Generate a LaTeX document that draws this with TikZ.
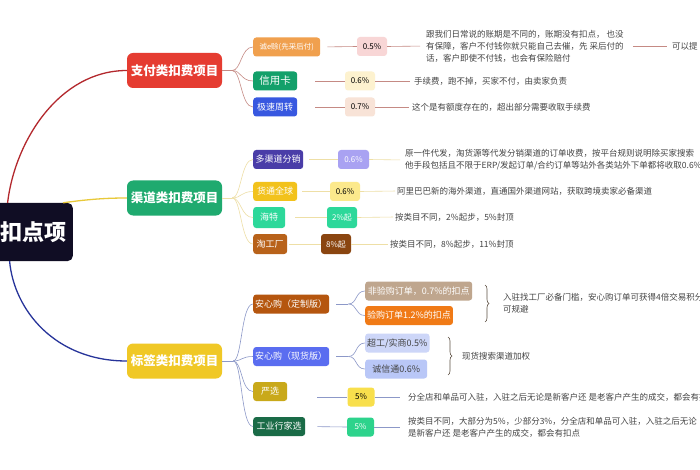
\documentclass[tikz,border=0pt]{standalone}
\usepackage{fontspec}
\setmainfont{Noto Sans CJK SC}
\usepackage{xcolor}
\usetikzlibrary{decorations.pathreplacing}

\definecolor{rootbg}{HTML}{100D24}
\definecolor{payred}{HTML}{E53C31}
\definecolor{chgreen}{HTML}{1FAA6F}
\definecolor{labyellow}{HTML}{F0C826}
\definecolor{redcurve}{HTML}{B3282D}
\definecolor{yelcurve}{HTML}{E8C93A}
\definecolor{bluecurve}{HTML}{27349A}
\definecolor{payline}{HTML}{C58A84}
\definecolor{chline}{HTML}{EEDFA6}
\definecolor{labline}{HTML}{8C98C8}
\definecolor{txtgray}{HTML}{444444}
% box colours
\definecolor{cekc}{HTML}{F0A04E}
\definecolor{xykc}{HTML}{13A06A}
\definecolor{jszzc}{HTML}{3858E0}
\definecolor{p1c}{HTML}{F8D6D6}
\definecolor{p2c}{HTML}{FDF2CF}
\definecolor{p3c}{HTML}{F8E3D7}
\definecolor{dqdc}{HTML}{4A3DA8}
\definecolor{q1c}{HTML}{A9A2F2}
\definecolor{htqqc}{HTML}{F2C21C}
\definecolor{q2c}{HTML}{FCE98C}
\definecolor{htc}{HTML}{2DD89A}
\definecolor{tgcc}{HTML}{B8621A}
\definecolor{q4c}{HTML}{8A4510}
\definecolor{axdc}{HTML}{B5560F}
\definecolor{fygc}{HTML}{BFA68E}
\definecolor{ygc}{HTML}{F07A16}
\definecolor{axxc}{HTML}{5A6DF0}
\definecolor{cgc}{HTML}{CDD6F8}
\definecolor{cxtc}{HTML}{B9C7F7}
\definecolor{yxc}{HTML}{C9A91A}
\definecolor{r1c}{HTML}{F8DF4C}
\definecolor{gyhjc}{HTML}{1A6B47}
\definecolor{r2c}{HTML}{2DD38C}

\begin{document}
\begin{tikzpicture}[
		x=1pt, y=-1pt,
		every node/.style={font=\fontsize{8.5}{12}\selectfont},
		rootbox/.style={anchor=east, fill=rootbg, text=white, rounded corners=5pt, minimum height=58pt, inner xsep=6pt, font=\fontsize{22}{24}\selectfont\bfseries},
		mainbox/.style={rounded corners=6pt, text=white, minimum width=95pt, minimum height=35pt, font=\fontsize{12.5}{14}\selectfont\bfseries},
		subbox/.style={anchor=west, rounded corners=3pt, text=white, minimum height=19pt, inner xsep=2pt, font=\fontsize{9}{10}\selectfont},
		pctbox/.style={rounded corners=3pt, minimum width=30pt, minimum height=19pt, inner sep=1pt, font=\fontsize{8}{10}\selectfont},
		desc/.style={anchor=west, align=left, text=txtgray, inner sep=0pt},
		paylink/.style={draw=payline, line width=0.6pt},
		chlink/.style={draw=chline, line width=0.6pt},
		lablink/.style={draw=labline, line width=0.6pt},
		mybrace/.style={draw=txtgray!80!brown, line width=0.6pt, decorate, decoration={brace, amplitude=4pt}}
		]
	
	\clip (0,0) rectangle (700,470);
	\fill[white] (0,0) rectangle (700,470);
	
	% Root and main branches
	\node[rootbox] (root) at (73,232) {扣点项};
	\node[mainbox, fill=payred] (zf) at (174.5,70.5) {支付类扣费项目};
	\node[mainbox, fill=chgreen] (qd) at (174.5,198) {渠道类扣费项目};
	\node[mainbox, fill=labyellow] (bq) at (174.5,361) {标签类扣费项目};
	
	\draw[redcurve, line width=1.3pt] ([xshift=13pt]root.north west) .. controls (15,140) and (60,70.5) .. (zf.west);
	\draw[yelcurve, line width=1.3pt] ([xshift=-10pt]root.north east) .. controls (90,199) and (108,198) .. (qd.west);
	\draw[bluecurve, line width=1.3pt] ([xshift=15pt]root.south west) .. controls (14,310) and (55,361) .. (bq.west);
	
	% Payment items
	\node[subbox, fill=cekc, minimum width=67pt, font=\fontsize{7.5}{9}\selectfont] (cek) at (253,47) {诚e赊(先采后付)};
	\node[subbox, fill=xykc, minimum width=44pt, font=\fontsize{10.5}{12}\selectfont] (xyk) at (253,81) {信用卡};
	\node[subbox, fill=jszzc, minimum width=44pt] (jszz) at (253,107) {极速周转};
	
	\draw[paylink] (zf.east) -- ++(10,0) coordinate (zfk);
	\foreach \n in {cek, xyk, jszz}{
		\draw[paylink] (zfk) .. controls +(9,0) and +(-12,0) .. (\n.west);
	}
	
	\node[pctbox, fill=p1c] (p1) at (372,46.5) {0.5\%};
	\node[pctbox, fill=p2c] (p2) at (360,81) {0.6\%};
	\node[pctbox, fill=p3c] (p3) at (360,107) {0.7\%};
	
	\node[desc] (t1) at (426,46) {跟我们日常说的账期是不同的，账期没有扣点， 也没\\有保障，客户不付钱你就只能自己去催，先 采后付的\\话，客户即使不付钱，也会有保险赔付};
	\node[desc] (t1b) at (672,46) {可以提};
	\node[desc] (t2) at (414,81) {手续费，跑不掉，买家不付，由卖家负责};
	\node[desc] (t3) at (412,107) {这个是有额度存在的，超出部分需要收取手续费};
	
	\draw[paylink, shorten <=7pt] (cek.east) -- (p1.west);
	\draw[paylink, shorten >=6pt] (p1.east) -- (t1.west);
	\draw[paylink, shorten <=9pt, shorten >=5pt] (t1.east) -- (t1b.west);
	\draw[paylink, shorten <=18pt] (xyk.east) -- (p2.west);
	\draw[paylink, shorten >=4pt] (p2.east) -- (t2.west);
	\draw[paylink, shorten <=18pt] (jszz.east) -- (p3.west);
	\draw[paylink, shorten >=3pt] (p3.east) -- (t3.west);
	
	% Channel items
	\node[subbox, fill=dqdc, minimum width=50pt] (dqd) at (253,159.5) {多渠道分销};
	\node[subbox, fill=htqqc, minimum width=44pt] (htqq) at (253,191.5) {货通全球};
	\node[subbox, fill=htc, minimum width=32pt, minimum height=21pt] (ht) at (253,217.5) {海特};
	\node[subbox, fill=tgcc, minimum width=34pt, minimum height=20pt] (tgc) at (253,244) {淘工厂};
	
	\draw[chlink] (qd.east) -- ++(10,0) coordinate (qdk);
	\foreach \n in {dqd, htqq, ht, tgc}{
		\draw[chlink] (qdk) .. controls +(9,0) and +(-12,0) .. (\n.west);
	}
	
	\node[pctbox, fill=q1c, text=white, minimum width=31pt] (q1) at (353.5,159.5) {0.6\%};
	\node[pctbox, fill=q2c] (q2) at (345,191.5) {0.6\%};
	\node[pctbox, fill=htc, text=white, minimum height=21pt] (q3) at (342,217.5) {2\%起};
	\node[pctbox, fill=q4c, text=white, minimum height=20pt] (q4) at (336,244) {8\%起};
	
	\node[desc] (c1) at (405,160) {原一件代发，淘货源等代发分销渠道的订单收费，按平台规则说明除买家搜索\\他手段包括且不限于ERP/发起订单/合约订单等站外各类站外下单都将收取0.6\%};
	\node[desc] (c2) at (397,191) {阿里巴巴新的海外渠道，直通国外渠道网站，获取跨境卖家必备渠道};
	\node[desc] (c3) at (395,217) {按类目不同，2\%起步，5\%封顶};
	\node[desc] (c4) at (390,244) {按类目不同，8\%起步，11\%封顶};
	
	\draw[chlink, shorten <=6pt] (dqd.east) -- (q1.west);
	\draw[chlink, shorten >=5pt] (q1.east) -- (c1.west);
	\draw[chlink, shorten <=5pt] (htqq.east) -- (q2.west);
	\draw[chlink, shorten >=2pt] (q2.east) -- (c2.west);
	\draw[chlink, shorten <=10pt] (ht.east) -- (q3.west);
	\draw[chlink, shorten >=2pt] (q3.east) -- (c3.west);
	\draw[chlink, shorten <=2pt] (tgc.east) -- (q4.west);
	\draw[chlink, shorten >=2pt] (q4.east) -- (c4.west);
	
	% Label items
	\node[subbox, fill=axdc, minimum width=73pt] (axd) at (253,304) {安心购（定制版）};
	\node[subbox, fill=axxc, minimum width=73pt] (axx) at (253,356.5) {安心购（现货版）};
	\node[subbox, fill=yxc, minimum width=34pt] (yx) at (253,391.5) {严选};
	\node[subbox, fill=gyhjc, minimum width=52pt] (gyhj) at (253,426.5) {工业行家选};
	
	\draw[lablink] (bq.east) -- ++(11,0) coordinate (bqk);
	\foreach \n in {axd, axx, yx, gyhj}{
		\draw[lablink] (bqk) .. controls +(9,0) and +(-12,0) .. (\n.west);
	}
	
	% Custom version
	\node[subbox, fill=fygc, minimum width=107pt] (fyg) at (365,291) {非验购订单，0.7\%的扣点};
	\node[subbox, fill=ygc, minimum width=84pt] (yg) at (365,315.5) {验购订单1.2\%的扣点};
	\draw[lablink, shorten <=7pt] (axd.east) -- ++(19,0) coordinate (axdk);
	\foreach \n in {fyg, yg}{
		\draw[lablink] (axdk) .. controls +(9,0) and +(-10,0) .. (\n.west);
	}
	\coordinate (b1a) at (485,285);
	\coordinate (b1b) at (485,322);
	\draw[mybrace] (b1a) -- (b1b);
	\node[desc] (l1) at (503,303) {入驻找工厂必备门槛，安心购订单可获得4倍交易积分\\可规避};
	
	% Stock version
	\node[subbox, fill=cgc, text=txtgray, minimum width=62pt] (cg) at (365,343) {超工/实商0.5\%};
	\node[subbox, fill=cxtc, text=txtgray, minimum width=62pt] (cxt) at (365,369) {诚信通0.6\%};
	\draw[lablink, shorten <=7pt] (axx.east) -- ++(19,0) coordinate (axxk);
	\foreach \n in {cg, cxt}{
		\draw[lablink] (axxk) .. controls +(9,0) and +(-10,0) .. (\n.west);
	}
	\coordinate (b2a) at (448,337);
	\coordinate (b2b) at (448,375);
	\draw[mybrace] (b2a) -- (b2b);
	\node[desc] (l2) at (462,356) {现货搜索渠道加权};
	
	% Strict selection and industry experts
	\node[pctbox, fill=r1c, minimum width=27pt] (r1) at (361,397) {5\%};
	\node[pctbox, fill=r2c, text=white, minimum width=27pt] (r2) at (360.5,427) {5\%};
	\node[desc] (l3) at (408,397) {分全店和单品可入驻，入驻之后无论是新客户还 是老客户产生的成交，都会有扣点};
	\node[desc] (l4) at (408,427) {按类目不同，大部分为5\%，少部分3\%，分全店和单品可入驻，入驻之后无论\\是新客户还 是老客户产生的成交，都会有扣点};
	
	\draw[lablink, shorten <=30pt] (yx.east |- r1.west) -- (r1.west);
	\draw[lablink, shorten >=8pt] (r1.east) -- (l3.west);
	\draw[lablink, shorten <=12pt] (gyhj.east) -- (r2.west);
	\draw[lablink, shorten >=8pt] (r2.east) -- (l4.west);
	
\end{tikzpicture}
\end{document}
